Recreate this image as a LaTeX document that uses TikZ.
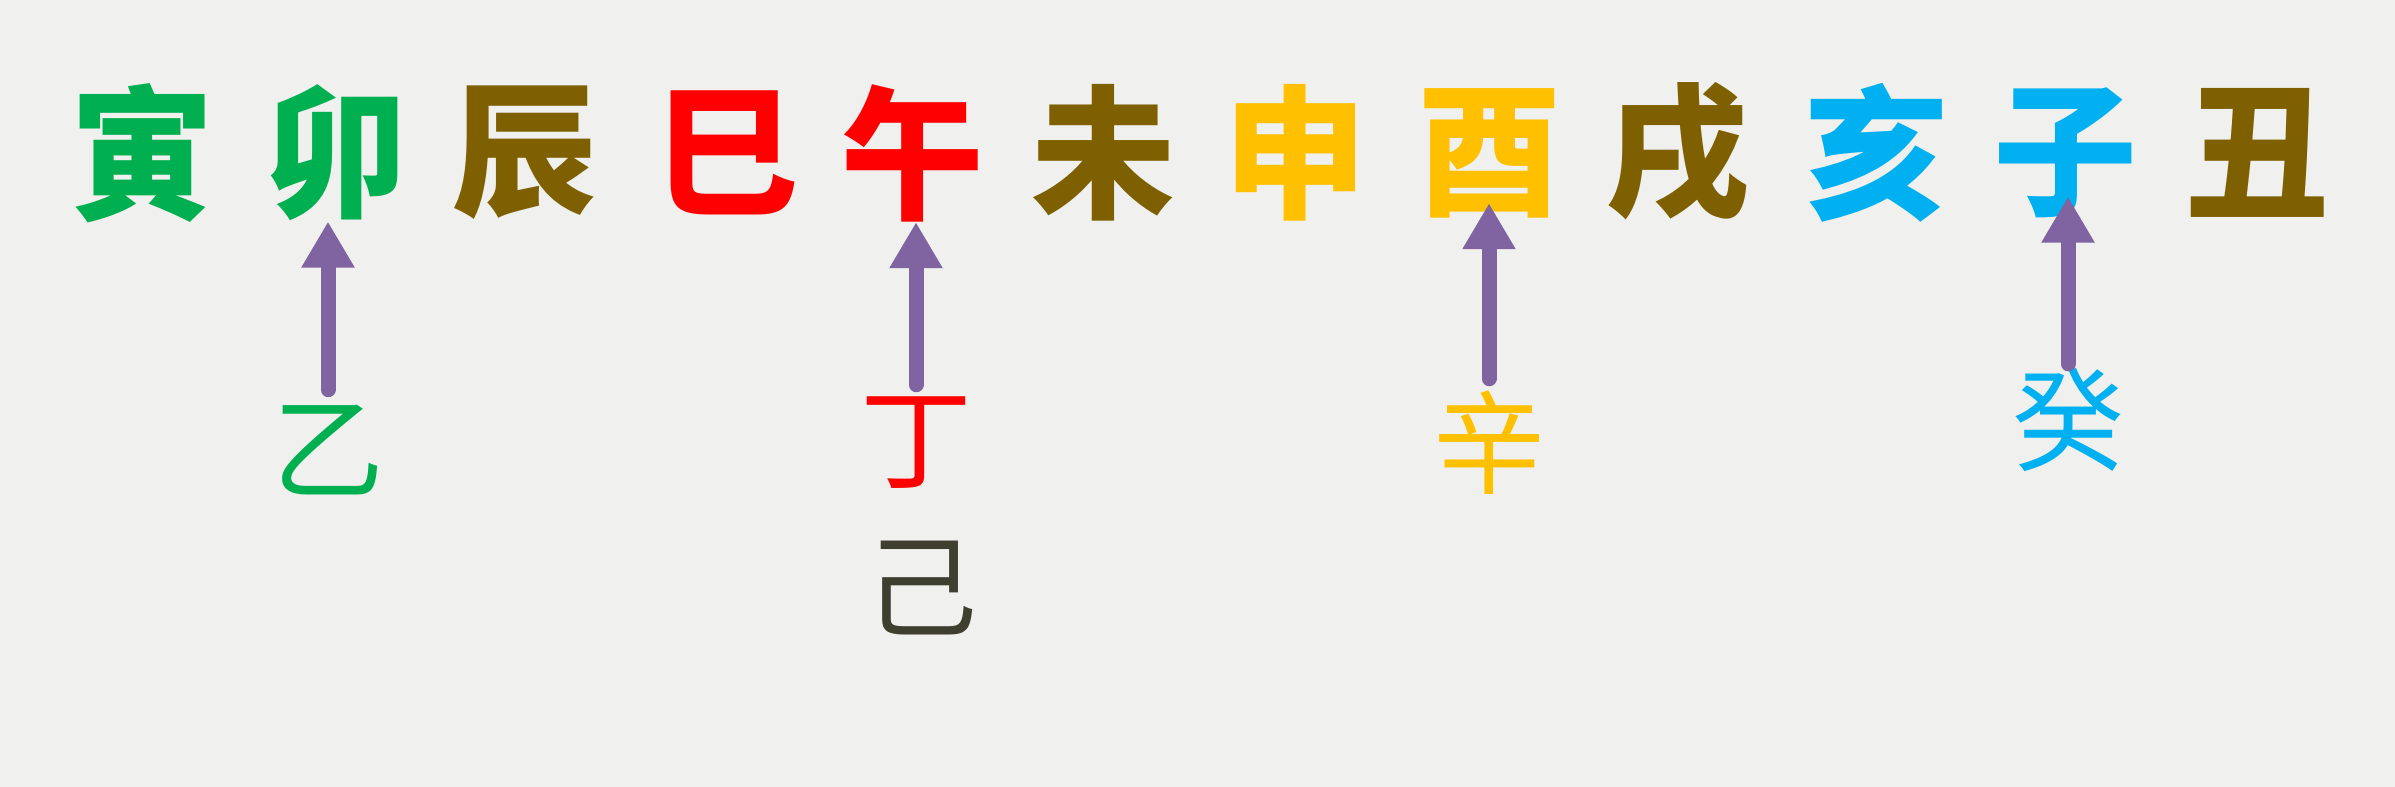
\documentclass[tikz,border=0pt]{standalone}
\usepackage{fontspec}
\newfontfamily\cjk{Noto Sans CJK SC}
\usetikzlibrary{arrows.meta}
\definecolor{bg}{HTML}{F0F0EE}
\definecolor{cgreen}{HTML}{00B050}
\definecolor{colive}{HTML}{7F6000}
\definecolor{cred}{HTML}{FF0000}
\definecolor{cgold}{HTML}{FFC000}
\definecolor{ccyan}{HTML}{00B0F0}
\definecolor{cdark}{HTML}{3F3F30}
\definecolor{cpurple}{HTML}{8064A2}
\tikzset{
  top/.style={inner sep=0pt, font=\cjk\bfseries\fontsize{72pt}{72pt}\selectfont},
  low/.style={inner sep=0pt, font=\cjk\fontsize{56pt}{56pt}\selectfont},
  arr/.style={draw=cpurple, line width=7.5pt, line cap=round, -{Triangle[width=25pt,length=23pt]}},
}
\begin{document}
\begin{tikzpicture}[x=0.5pt,y=-0.5pt]
\fill[bg] (0,0) rectangle (2395,787);
\useasboundingbox (0,0) rectangle (2395,787);
% top row
\node[top,text=cgreen] (yin)  at (142,153) {寅};
\node[top,text=cgreen] (mao)  at (336,153) {卯};
\node[top,text=colive] (chen) at (524,153) {辰};
\node[top,text=cred]   (si)   at (726,153) {巳};
\node[top,text=cred]   (wu)   at (912,153) {午};
\node[top,text=colive] (wei)  at (1103,153) {未};
\node[top,text=cgold]  (shen) at (1295,153) {申};
\node[top,text=cgold]  (you)  at (1489,153) {酉};
\node[top,text=colive] (xu)   at (1677,153) {戌};
\node[top,text=ccyan]  (hai)  at (1876,153) {亥};
\node[top,text=ccyan]  (zi)   at (2065,153) {子};
\node[top,text=colive] (chou) at (2257,153) {丑};
% lower characters
\node[low,text=cgreen] (yi)   at (328,450) {乙};
\node[low,text=cred]   (ding) at (916,443) {丁};
\node[low,text=cdark]  (ji)   at (921,588) {己};
\node[low,text=cgold]  (xin)  at (1489,443) {辛};
\node[low,text=ccyan]  (gui)  at (2068,420) {癸};
% arrows
\draw[arr, shorten <=7.5pt] (yi.north) -- (yi.north |- mao.south);
\draw[arr, shorten <=6pt] (ding.north) -- (ding.north |- wu.south);
\draw[arr, shorten <=6pt, shorten >=-7.5pt] (xin.north) -- (xin.north |- you.south);
\draw[arr, shorten <=2pt, shorten >=-11pt] (gui.north) -- (gui.north |- zi.south);
\end{tikzpicture}
\end{document}
